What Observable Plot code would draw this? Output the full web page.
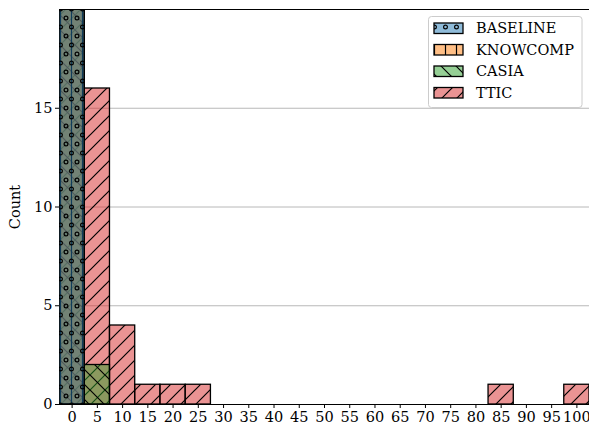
<!DOCTYPE html>
<html>
<head>
<meta charset="utf-8">
<script src="https://cdn.jsdelivr.net/npm/d3@7"></script>
<script src="https://cdn.jsdelivr.net/npm/@observablehq/plot@0.6"></script>
<style>
  html, body { margin: 0; padding: 0; background: white; }
  #chart { width: 589px; height: 426px; }
</style>
</head>
<body>
<div id="chart"></div>
<script>
// ---- data ----
const seriesNames = ["BASELINE", "KNOWCOMP", "CASIA", "TTIC"];
const seriesColors = ["#1f77b4", "#ff7f0e", "#2ca02c", "#d62728"];
const binCenters = [0, 5, 10, 15, 20, 25, 30, 35, 40, 45, 50, 55, 60, 65, 70, 75, 80, 85, 90, 95, 100];
const baselineCounts = [50, 0, 0, 0, 0, 0, 0, 0, 0, 0, 0, 0, 0, 0, 0, 0, 0, 0, 0, 0, 0];
const knowcompCounts = [50, 0, 0, 0, 0, 0, 0, 0, 0, 0, 0, 0, 0, 0, 0, 0, 0, 0, 0, 0, 0];
const casiaCounts    = [48, 2, 0, 0, 0, 0, 0, 0, 0, 0, 0, 0, 0, 0, 0, 0, 0, 0, 0, 0, 0];
const tticCounts     = [25, 16, 4, 1, 1, 1, 0, 0, 0, 0, 0, 0, 0, 0, 0, 0, 0, 1, 0, 0, 1];
const binWidth = 5;
const yTicks = [0, 5, 10, 15];
const xTicks = binCenters;

const countsBySeries = {
  BASELINE: baselineCounts,
  KNOWCOMP: knowcompCounts,
  CASIA: casiaCounts,
  TTIC: tticCounts
};
const patternIds = {BASELINE: "hatch-o", KNOWCOMP: "hatch-v", CASIA: "hatch-bs", TTIC: "hatch-fs"};

function rows(name) {
  return binCenters.map((c, i) => ({x: c, count: countsBySeries[name][i]})).filter(d => d.count > 0);
}

// draw order: TTIC first, BASELINE last (on top)
const drawOrder = ["TTIC", "CASIA", "KNOWCOMP", "BASELINE"];

const barMarks = drawOrder.map(name => Plot.rectY(rows(name), {
  x1: d => d.x - binWidth / 2,
  x2: d => d.x + binWidth / 2,
  y1: 0,
  y2: "count",
  fill: `url(#${patternIds[name]})`,
  stroke: "black",
  strokeWidth: 1.3,
  clip: true
}));

const chart = Plot.plot({
  width: 589,
  height: 426,
  marginLeft: 59,
  marginRight: 0,
  marginTop: 9,
  marginBottom: 22,
  style: {fontFamily: "'DejaVu Serif', serif", fontSize: "14.5px", background: "white", color: "black"},
  x: {type: "linear", domain: [-2.5, 102.5]},
  y: {domain: [0, 20]},
  marks: [
    Plot.gridY(yTicks.filter(t => t > 0), {stroke: "#b0b0b0", strokeOpacity: 1, strokeWidth: 0.9}),
    ...barMarks,
    Plot.ruleY([20], {stroke: "black", strokeWidth: 1.1}),
    Plot.ruleY([0], {stroke: "black", strokeWidth: 1.1}),
    Plot.axisX({ticks: xTicks, tickSize: 4, tickPadding: 3, tickFormat: d => String(d), label: null}),
    Plot.axisY({ticks: yTicks, tickSize: 4, tickPadding: 3, label: "Count", labelAnchor: "center", labelArrow: "none", labelOffset: 50})
  ]
});

document.getElementById("chart").appendChild(chart);

// ---- hatch patterns ----
const svg = d3.select(chart);
const defs = svg.insert("defs", ":first-child");
function makePattern(id, color, w, h, draw) {
  const p = defs.append("pattern").attr("id", id)
    .attr("patternUnits", "userSpaceOnUse").attr("width", w).attr("height", h);
  p.append("rect").attr("width", w).attr("height", h).attr("fill", color).attr("fill-opacity", 0.5);
  draw(p);
  return p;
}
const hatchStroke = {stroke: "black", "stroke-width": 1.2, fill: "none"};
function applyAttrs(sel, attrs) { for (const k in attrs) sel.attr(k, attrs[k]); return sel; }

makePattern("hatch-fs", seriesColors[3], 15, 15, p => {
  applyAttrs(p.append("path").attr("d", "M0,15L15,0M-3,3L3,-3M12,18L18,12"), hatchStroke);
});
makePattern("hatch-bs", seriesColors[2], 15, 15, p => {
  applyAttrs(p.append("path").attr("d", "M0,0L15,15M-3,12L3,18M12,-3L18,3"), hatchStroke);
});
makePattern("hatch-v", seriesColors[1], 11, 11, p => {
  applyAttrs(p.append("path").attr("d", "M5.5,0V11"), hatchStroke);
});
makePattern("hatch-o", seriesColors[0], 11, 18, p => {
  [[0, 0], [11, 0], [0, 18], [11, 18], [5.5, 9]].forEach(([cx, cy]) => {
    applyAttrs(p.append("circle").attr("cx", cx).attr("cy", cy).attr("r", 1.9), hatchStroke);
  });
});

// ---- legend (inside plot, upper right) ----
const lg = svg.append("g").attr("class", "legend");
lg.append("rect").attr("x", 428.5).attr("y", 16.5).attr("width", 153.5).attr("height", 91)
  .attr("rx", 3).attr("fill", "white").attr("fill-opacity", 0.8)
  .attr("stroke", "#cccccc").attr("stroke-width", 1);
seriesNames.forEach((name, i) => {
  const y0 = 23 + i * 21.5;
  lg.append("rect").attr("x", 434).attr("y", y0).attr("width", 29).attr("height", 10.5)
    .attr("fill", `url(#${patternIds[name]})`).attr("stroke", "black").attr("stroke-width", 1.3);
  lg.append("text").attr("x", 476).attr("y", y0 + 5.25).attr("dy", "0.35em")
    .attr("text-anchor", "start")
    .attr("font-family", "'DejaVu Serif', serif").attr("font-size", 14.5).attr("fill", "black")
    .text(name);
});
</script>
</body>
</html>
